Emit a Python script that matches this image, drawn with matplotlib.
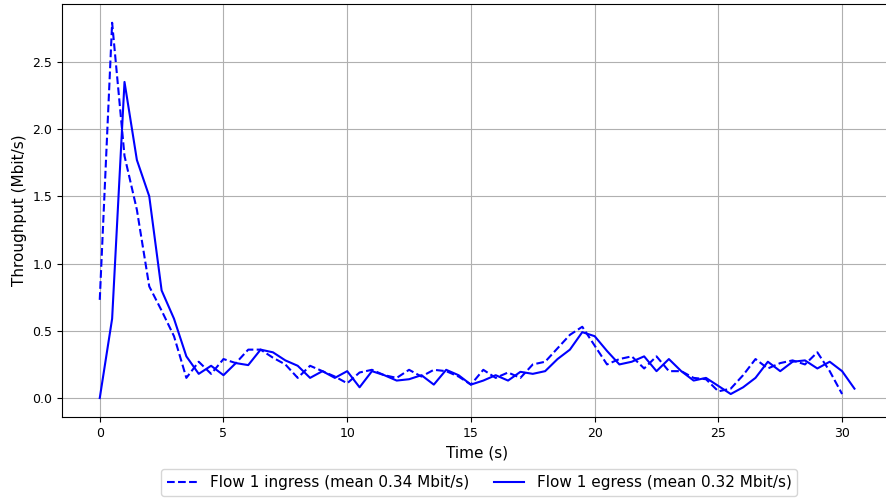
import matplotlib
matplotlib.use("Agg")
import matplotlib.pyplot as plt
import numpy as np

# time axis, sampled every 0.5 s
t_ingress = np.arange(0, 30.01, 0.5)
t_egress = np.arange(0, 30.51, 0.5)

# throughput values (Mbit/s)
ingress = [0.73, 2.79, 1.80, 1.40, 0.83, 0.65, 0.46, 0.15, 0.27, 0.18,
           0.29, 0.26, 0.36, 0.36, 0.30, 0.25, 0.15, 0.24, 0.20, 0.16,
           0.11, 0.19, 0.21, 0.17, 0.15, 0.21, 0.16, 0.21, 0.20, 0.16,
           0.10, 0.21, 0.15, 0.19, 0.15, 0.25, 0.27, 0.37, 0.47, 0.53,
           0.39, 0.25, 0.29, 0.31, 0.22, 0.31, 0.20, 0.20, 0.15, 0.14,
           0.05, 0.07, 0.17, 0.29, 0.22, 0.26, 0.28, 0.25, 0.34, 0.20,
           0.03]
egress = [0.00, 0.59, 2.35, 1.77, 1.50, 0.80, 0.59, 0.31, 0.18, 0.24,
          0.17, 0.26, 0.245, 0.36, 0.34, 0.28, 0.24, 0.15, 0.20, 0.15,
          0.20, 0.08, 0.20, 0.17, 0.13, 0.14, 0.17, 0.10, 0.21, 0.17,
          0.10, 0.13, 0.17, 0.13, 0.195, 0.18, 0.20, 0.29, 0.36, 0.49,
          0.46, 0.35, 0.25, 0.27, 0.31, 0.20, 0.29, 0.20, 0.13, 0.15,
          0.09, 0.03, 0.08, 0.15, 0.27, 0.20, 0.27, 0.28, 0.22, 0.27,
          0.20, 0.07]

labels = ["Flow 1 ingress (mean 0.34 Mbit/s)",
          "Flow 1 egress (mean 0.32 Mbit/s)"]

fig = plt.figure(figsize=(8.86, 4.98), dpi=100)
ax = fig.add_axes([0.070, 0.163, 0.937, 0.829])

ax.plot(t_ingress, ingress, color="blue", linestyle="--", label=labels[0])
ax.plot(t_egress, egress, color="blue", linestyle="-", label=labels[1])

ax.set_xlabel("Time (s)", fontsize=11)
ax.set_ylabel("Throughput (Mbit/s)", fontsize=11)
ax.tick_params(labelsize=9)
ax.grid(True, color="#b0b0b0", linewidth=0.8)

fig.legend(loc="lower center", ncol=2, fontsize=11,
           bbox_to_anchor=(0.541, -0.012), columnspacing=1.6)

fig.savefig("out.png", dpi=100)
